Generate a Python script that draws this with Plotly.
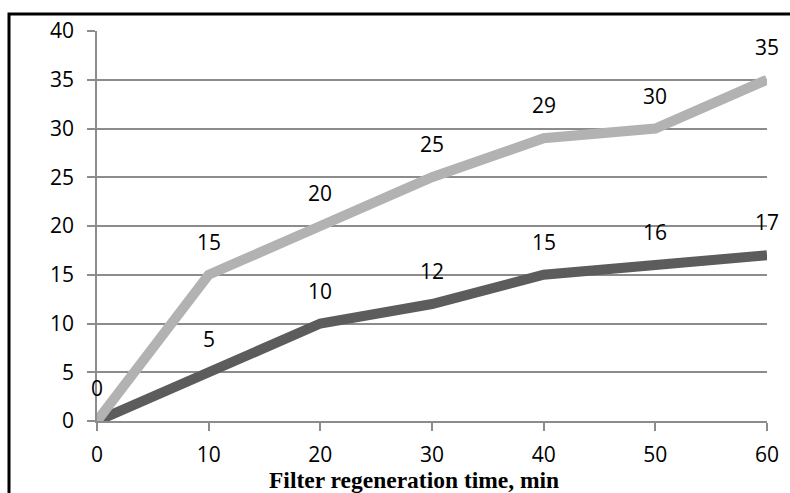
import plotly.graph_objects as go

time_min = [0, 10, 20, 30, 40, 50, 60]
series_light = [0, 15, 20, 25, 29, 30, 35]
series_dark = [0, 5, 10, 12, 15, 16, 17]
x_title = "Filter regeneration time, min"

light_color = "#b2b2b2"
dark_color = "#5c5c5c"

fig = go.Figure()
fig.add_trace(go.Scatter(x=time_min, y=series_dark, mode="lines",
                         line=dict(color=dark_color, width=10), showlegend=False,
                         cliponaxis=False))
fig.add_trace(go.Scatter(x=time_min, y=series_light, mode="lines",
                         line=dict(color=light_color, width=10), showlegend=False,
                         cliponaxis=False))

font_tick = dict(family="Open Sans, Liberation Sans, sans-serif", size=21, color="#000")

annotations = []
for x, y in zip(time_min, series_light):
    annotations.append(dict(x=x, y=y, text=str(y), showarrow=False, yshift=33,
                            font=font_tick, xref="x", yref="y"))
for x, y in zip(time_min, series_dark):
    if x == 0:
        continue
    annotations.append(dict(x=x, y=y, text=str(y), showarrow=False, yshift=33,
                            font=font_tick, xref="x", yref="y"))

annotations.append(dict(x=(414 - 97) / 670, y=-(480 - 421) / 390, xref="paper", yref="paper",
                        text="<b>" + x_title + "</b>", showarrow=False,
                        xanchor="center", yanchor="middle",
                        font=dict(family="Liberation Serif, Times New Roman, serif",
                                  size=23.5, color="#000")))

fig.update_layout(
    width=790, height=493,
    margin=dict(l=97, r=23, t=31, b=72),
    plot_bgcolor="white", paper_bgcolor="white",
    annotations=annotations,
    xaxis=dict(range=[0, 60], tickvals=time_min, showgrid=False, zeroline=False,
               showline=True, linecolor="#8c8c8c", linewidth=1.5,
               ticks="outside", ticklen=8, tickcolor="#8c8c8c", tickwidth=1.5,
               tickfont=font_tick, ticklabelstandoff=6),
    yaxis=dict(range=[0, 40], tickvals=list(range(0, 41, 5)), showgrid=True,
               gridcolor="#8c8c8c", gridwidth=1.5, zeroline=False,
               showline=True, linecolor="#8c8c8c", linewidth=1.5,
               ticks="outside", ticklen=8, tickcolor="#8c8c8c", tickwidth=1.5,
               tickfont=font_tick, ticklabelstandoff=9),
    shapes=[dict(type="rect", xref="paper", yref="paper",
                 x0=(9 - 97) / 670, x1=(800 - 97) / 670,
                 y0=-(503 - 421) / 390, y1=1 + (31 - 14) / 390,
                 line=dict(color="black", width=3), layer="above")],
)

fig.write_html("out.html")
